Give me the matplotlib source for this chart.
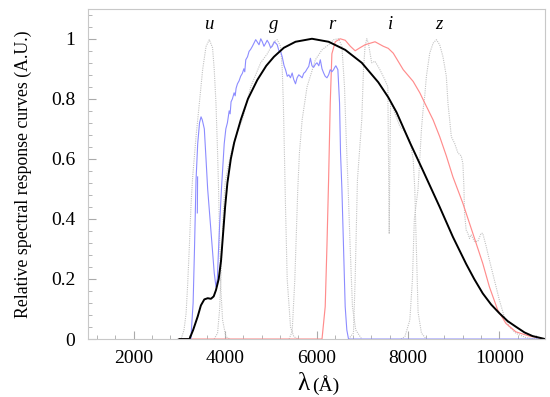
import matplotlib

matplotlib.use("Agg")
import matplotlib.pyplot as plt
from matplotlib.ticker import MultipleLocator, FuncFormatter

# black: smooth overall response
black_wl = [3000, 3220, 3300, 3400, 3470, 3545, 3620, 3690, 3750, 3800, 3860, 3910, 3960, 4000,
            4050, 4125, 4200, 4343, 4500, 4705, 4900, 5068, 5285, 5540, 5900, 6265, 6628, 6990,
            7352, 7570, 7751, 8041, 8332, 8513, 8694, 8984, 9274, 9450, 9637, 9820, 10000, 10180,
            10362, 10550, 10725, 10943, 11000]
black_val = [0, 0, 0.03, 0.075, 0.112, 0.132, 0.136, 0.134, 0.142, 0.163, 0.2, 0.26, 0.36, 0.44,
             0.52, 0.6, 0.655, 0.73, 0.8, 0.863, 0.91, 0.94, 0.97, 0.99, 1.0, 0.99, 0.963, 0.92,
             0.855, 0.805, 0.755, 0.655, 0.56, 0.5, 0.44, 0.34, 0.25, 0.2, 0.152, 0.115, 0.086, 0.06,
             0.041, 0.022, 0.01, 0.002, 0.0]

# red arm
red_wl = [3000, 6120, 6190, 6228, 6264, 6300, 6336, 6410, 6518, 6628, 6740, 6845, 6950, 7062, 7280,
          7461, 7570, 7679, 7897, 8114, 8260, 8368, 8550, 8695, 8840, 8984, 9202, 9420, 9637, 9782,
          9963, 10144, 10362, 10652, 11000]
red_val = [0, 0, 0.108, 0.31, 0.53, 0.785, 0.95, 0.99, 1.0, 0.995, 0.975, 0.96, 0.97, 0.98, 0.99,
           0.975, 0.968, 0.952, 0.897, 0.858, 0.82, 0.786, 0.73, 0.674, 0.61, 0.54, 0.452, 0.352,
           0.252, 0.174, 0.097, 0.052, 0.024, 0.01, 0.0]

# blue arm
blue_wl = [3250, 3300, 3330, 3364, 3400, 3440, 3473, 3500, 3545, 3582, 3618, 3690, 3762, 3800, 3830,
           3870, 3920, 3980, 4016, 4050, 4089, 4110, 4130, 4160, 4197, 4220, 4240, 4270, 4306, 4340,
           4378, 4410, 4430, 4452, 4490, 4524, 4560, 4597, 4630, 4669, 4700, 4742, 4780, 4814,
           4850, 4887, 4920, 4959, 4995, 5031, 5080, 5140, 5177, 5213, 5249, 5290, 5322, 5360,
           5394, 5430, 5467, 5500, 5540, 5575, 5612, 5650, 5685, 5720, 5757, 5795, 5830, 5866,
           5900, 5938, 5975, 6010, 6050, 6083, 6120, 6156, 6190, 6228, 6265, 6300, 6336, 6373,
           6400, 6423, 6467, 6504, 6525, 6555, 6590, 6627, 6663, 6700, 11000]
blue_val = [0, 0.12, 0.3, 0.53, 0.65, 0.72, 0.74, 0.73, 0.70, 0.60, 0.50, 0.36, 0.22, 0.174, 0.2,
            0.35, 0.5, 0.65, 0.70, 0.72, 0.76, 0.75, 0.79, 0.80, 0.82, 0.81, 0.835, 0.85, 0.86, 0.875,
            0.885, 0.9, 0.89, 0.93, 0.94, 0.958, 0.965, 0.975, 0.985, 0.997, 0.99, 0.98, 1.0, 0.99,
            0.975, 0.985, 0.995, 0.985, 0.97, 0.975, 0.99, 0.98, 0.96, 0.958, 0.94, 0.91, 0.897, 0.875,
            0.88, 0.87, 0.886, 0.865, 0.85, 0.87, 0.88, 0.875, 0.87, 0.885, 0.89, 0.9, 0.908, 0.935,
            0.91, 0.905, 0.915, 0.92, 0.91, 0.93, 0.9, 0.886, 0.875, 0.87, 0.88, 0.897, 0.89, 0.897,
            0.905, 0.91, 0.897, 0.785, 0.62, 0.50, 0.31, 0.108, 0.03, 0, 0]
blue_spike_wl = [3392, 3398]
blue_spike_val = [0.42, 0.54]

# SDSS filter curves (dotted)
u_wl = [2950, 3037, 3100, 3146, 3180, 3218, 3255, 3290, 3364, 3436, 3508, 3582, 3654, 3725, 3762,
        3800, 3835, 3857, 3875, 3908, 3945, 4016, 4100]
u_val = [0, 0, 0.03, 0.085, 0.18, 0.31, 0.45, 0.54, 0.675, 0.785, 0.897, 0.974, 0.997, 0.97, 0.897,
         0.785, 0.62, 0.497, 0.36, 0.163, 0.063, 0.008, 0]
g_wl = [3760, 3835, 3880, 3920, 3960, 4000, 4060, 4161, 4270, 4378, 4560, 4778, 4923, 5068, 5140,
        5213, 5250, 5275, 5300, 5320, 5358, 5431, 5503, 5600]
g_val = [0, 0.02, 0.1, 0.25, 0.42, 0.52, 0.57, 0.64, 0.69, 0.73, 0.84, 0.92, 0.95, 0.99, 0.997,
         0.975, 0.9, 0.78, 0.6, 0.45, 0.2, 0.04, 0.008, 0]
r_wl = [5400, 5467, 5525, 5590, 5626, 5685, 5793, 5975, 6119, 6264, 6373, 6482, 6555, 6612, 6648,
        6690, 6735, 6786, 6858, 6990]
r_val = [0, 0.025, 0.197, 0.5, 0.62, 0.73, 0.84, 0.93, 0.963, 0.98, 0.997, 1.0, 0.975, 0.84, 0.675,
         0.51, 0.31, 0.108, 0.03, 0]
i_wl = [6700, 6808, 6845, 6895, 6990, 7027, 7062, 7100, 7135, 7207, 7280, 7387, 7497, 7560, 7575,
        7590, 7605, 7620, 7642, 7715, 7824, 7933, 8041, 8114, 8150, 8185, 8222, 8295, 8400]
i_val = [0, 0.02, 0.197, 0.53, 0.73, 0.897, 0.975, 1.0, 0.985, 0.92, 0.925, 0.897, 0.863, 0.84, 0.6,
         0.35, 0.6, 0.78, 0.785, 0.752, 0.708, 0.69, 0.663, 0.6, 0.5, 0.3, 0.09, 0.02, 0]
z_wl = [7850, 7933, 8041, 8099, 8140, 8222, 8258, 8295, 8331, 8368, 8404, 8477, 8550, 8622, 8695,
        8767, 8840, 8876, 8913, 8949, 8984, 9021, 9093, 9165, 9202, 9224, 9238, 9274, 9311, 9347,
        9383, 9456, 9529, 9600, 9637, 9710, 9782, 9891, 10000, 10109, 10218, 10362, 10580, 10800]
z_val = [0, 0.008, 0.063, 0.2, 0.4, 0.5, 0.597, 0.697, 0.763, 0.81, 0.875, 0.952, 0.985, 0.997, 0.98,
         0.94, 0.875, 0.785, 0.73, 0.674, 0.663, 0.652, 0.62, 0.61, 0.585, 0.51, 0.42, 0.363, 0.352,
         0.335, 0.347, 0.325, 0.325, 0.352, 0.352, 0.31, 0.263, 0.197, 0.13, 0.074, 0.041, 0.019,
         0.005, 0]

filter_names = ["u", "g", "r", "i", "z"]
filter_label_wl = [3650, 5070, 6330, 7615, 8680]

plt.rcParams["font.family"] = ["Liberation Serif", "DejaVu Serif"]

fig = plt.figure(figsize=(5.5, 3.97), dpi=100)
ax = fig.add_axes([0.16, 0.146, 0.831, 0.832])

gray = "#c2c2c2"
for wl, val in [(u_wl, u_val), (g_wl, g_val), (r_wl, r_val), (i_wl, i_val), (z_wl, z_val)]:
    ax.plot(wl, val, color=gray, lw=0.8, ls=(0, (1, 1)))

ax.plot(red_wl, red_val, color="#ff8c8c", lw=0.85)
ax.plot(blue_wl, blue_val, color="#8c8cff", lw=0.8)
ax.plot(blue_spike_wl, blue_spike_val, color="#8c8cff", lw=0.8)
ax.plot(black_wl, black_val, color="black", lw=1.4)

for name, wl in zip(filter_names, filter_label_wl):
    ax.text(wl, 1.047, name, style="italic", fontsize=13.5, ha="center", va="center")

ax.set_xlim(1000, 11000)
ax.set_ylim(0, 1.1)
ax.xaxis.set_major_locator(MultipleLocator(2000))
ax.xaxis.set_minor_locator(MultipleLocator(400))
ax.yaxis.set_major_locator(MultipleLocator(0.2))
ax.yaxis.set_minor_locator(MultipleLocator(0.04))
ax.yaxis.set_major_formatter(FuncFormatter(lambda v, p: f"{v:g}"))
ax.tick_params(which="both", direction="in", color="#aaaaaa", labelsize=14, top=False, right=False)
ax.tick_params(which="major", length=6)
ax.tick_params(which="minor", length=3)
ax.tick_params(axis="x", pad=8)
ax.tick_params(axis="y", pad=9)
for s in ax.spines.values():
    s.set_color("#c8c8c8")

ax.set_ylabel("Relative spectral response curves (A.U.)", fontsize=12.8, labelpad=14)
fig.text(0.563, 0.033, "λ", fontsize=18, ha="right", va="center")
fig.text(0.568, 0.031, "(Å)", fontsize=14, ha="left", va="center")

fig.savefig("out.png", dpi=100)
